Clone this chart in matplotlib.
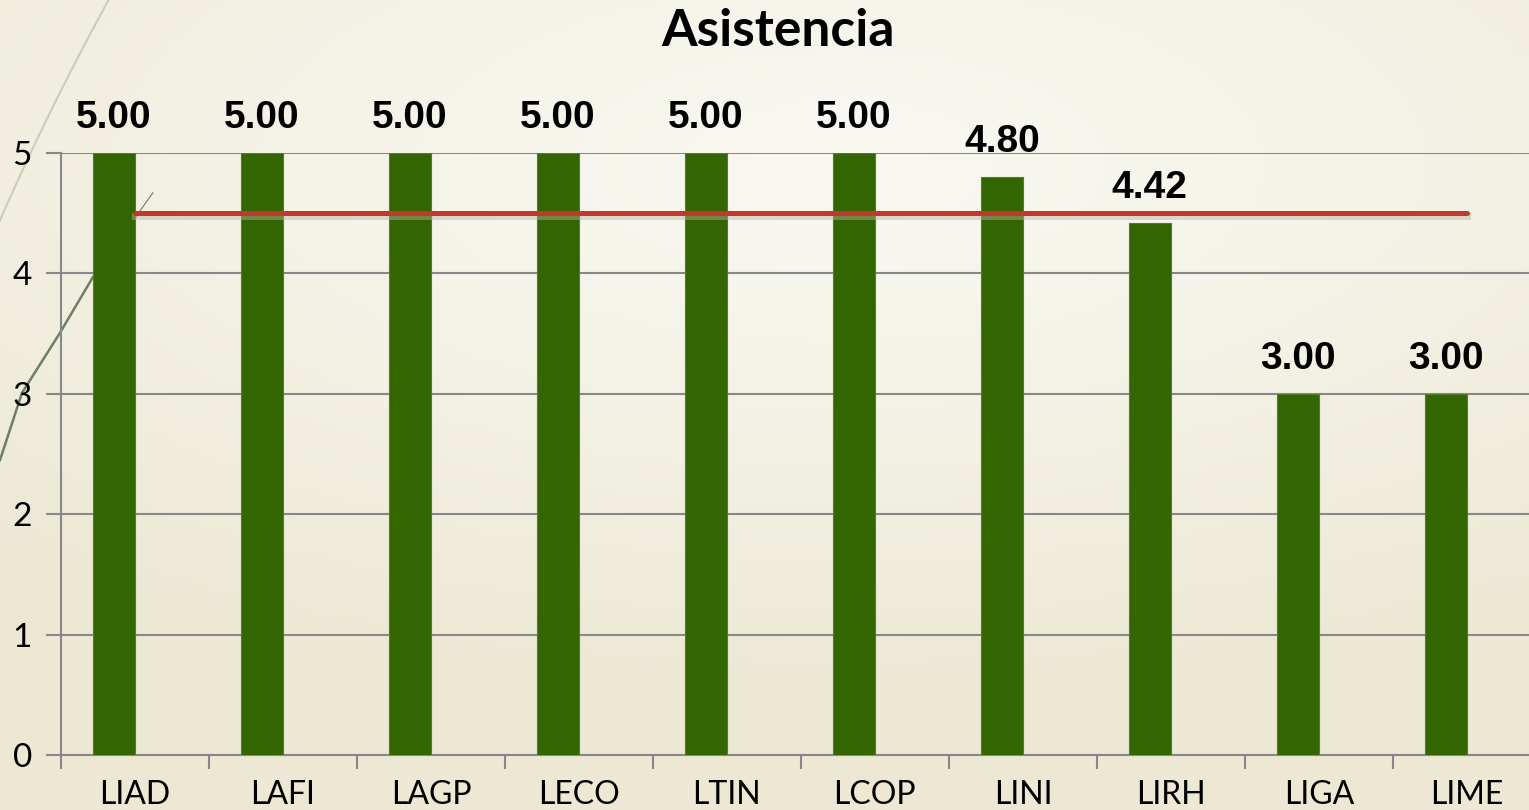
import matplotlib.pyplot as plt
import matplotlib.transforms as mtrans
import numpy as np

# datos
carreras = ['LIAD', 'LAFI', 'LAGP', 'LECO', 'LTIN', 'LCOP', 'LINI', 'LIRH', 'LIGA', 'LIME']
asistencia = [5.00, 5.00, 5.00, 5.00, 5.00, 5.00, 4.80, 4.42, 3.00, 3.00]
meta = [4.5] * len(carreras)
yticks = [0, 1, 2, 3, 4, 5]

verde = '#336600'
rojo = '#C0392B'
gris = '#888888'

fig = plt.figure(figsize=(15.29, 8.10), dpi=100)

# fondo crema con degradado suave
fondo = fig.add_axes([0, 0, 1, 1], zorder=-10)
gx, gy = np.meshgrid(np.linspace(0, 1, 300), np.linspace(0, 1, 160))
d = np.sqrt(((gx - 0.55) / 1.0) ** 2 + ((gy - 0.2) / 0.8) ** 2)
d = np.clip(d / 0.8, 0, 1) ** 1.3
claro = np.array([0.975, 0.972, 0.945])
oscuro = np.array([0.928, 0.912, 0.835])
img = claro[None, None, :] * (1 - d[..., None]) + oscuro[None, None, :] * d[..., None]
fondo.imshow(img, extent=[0, 1, 0, 1], aspect='auto', origin='upper')
fondo.set_xlim(0, 1)
fondo.set_ylim(0, 1)
# curvas decorativas del tema
t = np.linspace(0, 1, 50)
fondo.plot(0.071 * (1 - t) - 0.008 * t * (1 - t), 1 - 0.272 * t, color='#CACDB9', lw=1.5)
cx = [0.0, 0.0144, 0.0392, 0.0608]
cy = [0.432, 0.515, 0.589, 0.658]
fondo.plot(cx, cy, color='#6E7F62', lw=1.8)
fondo.plot([0.0608, 0.1], [0.658, 0.762], color='#6E7F62', lw=0.8)
fondo.axis('off')

ax = fig.add_axes([61 / 1529, 1 - 755 / 810, 1 - 61 / 1529, (755 - 153) / 810])
ax.patch.set_alpha(0)
x = np.arange(len(carreras))
ax.bar(x, asistencia, width=-0.285, align='edge', color=verde, edgecolor='#4F7F2A', linewidth=0.8, zorder=3)
sombra = ax.transData + mtrans.ScaledTranslation(0, -3 / 100, fig.dpi_scale_trans)
ax.plot(x, meta, color='#B5B2A0', lw=5, alpha=0.45, zorder=3.5, transform=sombra)
ax.plot(x, meta, color=rojo, lw=3.6, zorder=4, solid_capstyle='round')

for xi, v in zip(x, asistencia):
    ax.text(xi - 0.1425, v + 0.14, '%.2f' % v, ha='center', va='bottom', fontsize=28,
            fontweight='bold', family='Liberation Sans', zorder=5)

# etiquetas de categoría
for xi, c in zip(x, carreras):
    ax.annotate(c, (xi, 0), xycoords=('data', 'axes fraction'), xytext=(0, -35.5),
                textcoords='offset points', ha='center', va='baseline', fontsize=23,
                family='Lato', annotation_clip=False)

ax.set_xlim(-0.5, 9.42)
ax.set_ylim(0, 5)
ax.set_yticks(yticks)
ax.set_xticks(np.arange(-0.5, 9.5, 1))
ax.set_xticklabels([])
ax.tick_params(axis='x', length=10, width=1.5, color=gris)
ax.tick_params(axis='y', length=11, width=1.5, color=gris, labelsize=24, pad=10)
for lab in ax.get_yticklabels():
    lab.set_family('Lato')
ax.grid(axis='y', color=gris, lw=1.5, zorder=0)
for s in ['top', 'right']:
    ax.spines[s].set_visible(False)
for s in ['left', 'bottom']:
    ax.spines[s].set_color(gris)
    ax.spines[s].set_linewidth(1.5)

fig.text(778 / 1529, 1 - 32 / 810, 'Asistencia', ha='center', va='center', fontsize=37,
         fontweight='bold', family='Lato')

plt.savefig('out.png', dpi=100)
